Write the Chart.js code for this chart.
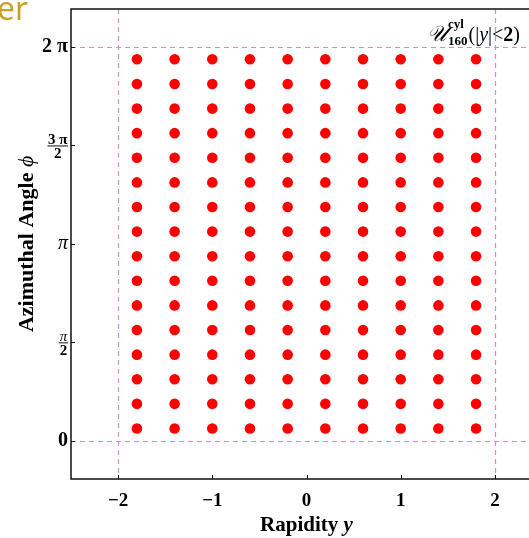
<!DOCTYPE html>
<html>
<head>
<meta charset="utf-8">
<script src="https://cdn.jsdelivr.net/npm/chart.js@4"></script>
<style>
  html, body { margin: 0; padding: 0; background: #fff; overflow: hidden; }
  #wrap { position: absolute; left: 0; top: 0; width: 560px; height: 538px; }
  #slideTitle {
    position: absolute; left: -3px; top: -12px;
    font-family: "Open Sans", sans-serif; font-size: 32px; color: #c9a021;
    line-height: 40px; z-index: 2;
  }
</style>
</head>
<body>
<div id="slideTitle">er</div>
<div id="wrap"><canvas id="grid" width="560" height="538"></canvas></div>
<script>
// grid of 160 particles: 10 rapidity columns x 16 azimuth rows
const rapidityValues = [-1.8, -1.4, -1.0, -0.6, -0.2, 0.2, 0.6, 1.0, 1.4, 1.8];
const phiValues = [0.196, 0.589, 0.982, 1.374, 1.767, 2.160, 2.553, 2.945,
                   3.338, 3.731, 4.123, 4.516, 4.909, 5.301, 5.694, 6.087];
const xTickValues = [-2, -1, 0, 1, 2];
const yTickValues = [0, Math.PI / 2, Math.PI, 3 * Math.PI / 2, 2 * Math.PI];
const yTickLabels = ["0", "π/2", "π", "3 π/2", "2 π"];
const boxRapidity = [-2, 2];
const boxPhi = [0, 2 * Math.PI];

const points = [];
rapidityValues.forEach((y) => {
  phiValues.forEach((phi) => points.push({ x: y, y: phi }));
});

const SERIF = '"Liberation Serif", "DejaVu Serif", serif';
const dashColor = "#d48cd8";

// frame, dashed box, inward ticks, y labels, axis titles, annotation
const decorations = {
  id: "decorations",
  beforeDatasetsDraw(chart) {
    const { ctx, chartArea: a, scales } = chart;
    const xs = scales.x, ys = scales.y;
    ctx.save();
    ctx.strokeStyle = dashColor;
    ctx.lineWidth = 1.2;
    ctx.setLineDash([5, 4]);
    boxRapidity.forEach((v) => {
      const px = Math.round(xs.getPixelForValue(v)) + 0.5;
      ctx.beginPath(); ctx.moveTo(px, a.top); ctx.lineTo(px, a.bottom); ctx.stroke();
    });
    boxPhi.forEach((v) => {
      const py = Math.round(ys.getPixelForValue(v)) + 0.5;
      ctx.beginPath(); ctx.moveTo(a.left, py); ctx.lineTo(a.right, py); ctx.stroke();
    });
    ctx.restore();
  },
  afterDraw(chart) {
    const { ctx, chartArea: a, scales } = chart;
    const xs = scales.x, ys = scales.y;
    ctx.save();
    // frame
    ctx.strokeStyle = "#111";
    ctx.lineWidth = 1.5;
    ctx.strokeRect(a.left, a.top, a.right - a.left, a.bottom - a.top);
    // ticks pointing inward
    ctx.lineWidth = 1;
    xTickValues.forEach((v) => {
      const px = Math.round(xs.getPixelForValue(v)) + 0.5;
      ctx.beginPath(); ctx.moveTo(px, a.bottom); ctx.lineTo(px, a.bottom - 4); ctx.stroke();
    });
    yTickValues.forEach((v) => {
      const py = Math.round(ys.getPixelForValue(v)) + 0.5;
      ctx.beginPath(); ctx.moveTo(a.left, py); ctx.lineTo(a.left + 4, py); ctx.stroke();
    });

    // y tick labels
    ctx.fillStyle = "#000";
    const rx = a.left - 3;
    yTickLabels.forEach((lab, i) => {
      const py = ys.getPixelForValue(yTickValues[i]);
      if (lab.includes("/")) {
        const [num, den] = lab.split("/");
        ctx.font = "bold 15px " + SERIF;
        const wn = ctx.measureText(num).width;
        const wd = ctx.measureText(den).width;
        const w = Math.max(wn, wd) + 1;
        const cx = rx - w / 2;
        ctx.textAlign = "center";
        ctx.textBaseline = "alphabetic";
        if (num.length > 1) {
          ctx.fillText(num, cx, py - 1.5);
        } else {
          ctx.font = "italic 15px " + SERIF;
          ctx.fillText(num, cx, py - 1.5);
          ctx.font = "bold 15px " + SERIF;
        }
        ctx.fillText(den, cx, py + 12.5);
        ctx.lineWidth = 1;
        ctx.beginPath(); ctx.moveTo(cx - w / 2, py + 0.5); ctx.lineTo(cx + w / 2, py + 0.5); ctx.stroke();
      } else if (lab === "π") {
        ctx.font = "italic 20px " + SERIF;
        ctx.textAlign = "right"; ctx.textBaseline = "middle";
        ctx.fillText(lab, rx, py);
      } else {
        ctx.font = "bold 20px " + SERIF;
        ctx.textAlign = "right"; ctx.textBaseline = "middle";
        ctx.fillText(lab, rx, py);
      }
    });

    // x title
    ctx.textBaseline = "alphabetic";
    ctx.textAlign = "left";
    const t1 = "Rapidity ";
    ctx.font = "bold italic 21px " + SERIF;
    const w2 = ctx.measureText("y").width;
    ctx.font = "bold 21px " + SERIF;
    const w1 = ctx.measureText(t1).width;
    const cx = xs.getPixelForValue(0);
    const sx = cx - (w1 + w2) / 2;
    ctx.fillText(t1, sx, 531);
    ctx.font = "bold italic 21px " + SERIF;
    ctx.fillText("y", sx + w1, 531);

    // y title
    ctx.save();
    ctx.translate(33, ys.getPixelForValue(Math.PI));
    ctx.rotate(-Math.PI / 2);
    ctx.font = "bold 22px " + SERIF;
    const s1 = "Azimuthal Angle ";
    const u1 = ctx.measureText(s1).width;
    ctx.font = "italic 22px " + SERIF;
    const u2 = ctx.measureText("ϕ").width;
    ctx.font = "bold 22px " + SERIF;
    ctx.fillText(s1, -(u1 + u2) / 2, 0);
    ctx.font = "italic 22px " + SERIF;
    ctx.fillText("ϕ", -(u1 + u2) / 2 + u1, 0);
    ctx.restore();

    // annotation U^cyl_160(|y|<2)
    let ax = 427;
    const base = 41;
    ctx.font = "italic 22px " + SERIF;
    ctx.fillText("𝒰", ax, base);
    ax += ctx.measureText("𝒰").width + 1;
    ctx.font = "bold 13px " + SERIF;
    ctx.fillText("cyl", ax, base - 13);
    ctx.fillText("160", ax, base + 4);
    ax += ctx.measureText("160").width + 1;
    ctx.font = "20px " + SERIF;
    ctx.fillText("(|", ax, base);
    ax += ctx.measureText("(|").width;
    ctx.font = "italic 20px " + SERIF;
    ctx.fillText("y", ax, base);
    ax += ctx.measureText("y").width;
    ctx.font = "20px " + SERIF;
    ctx.fillText("|<", ax, base);
    ax += ctx.measureText("|<").width;
    ctx.font = "bold 20px " + SERIF;
    ctx.fillText("2", ax, base);
    ax += ctx.measureText("2").width;
    ctx.font = "20px " + SERIF;
    ctx.fillText(")", ax, base);
    ctx.restore();
  }
};

new Chart(document.getElementById("grid"), {
  type: "scatter",
  data: {
    datasets: [{
      data: points,
      backgroundColor: "#ff0000",
      borderWidth: 0,
      pointRadius: 5.3,
      pointHoverRadius: 5.3
    }]
  },
  options: {
    responsive: false,
    animation: false,
    events: [],
    layout: { padding: { top: 9, right: 18, left: 0, bottom: 0 } },
    plugins: { legend: { display: false }, tooltip: { enabled: false } },
    scales: {
      x: {
        type: "linear",
        min: -2.5,
        max: 2.5,
        afterBuildTicks: (s) => { s.ticks = xTickValues.map((v) => ({ value: v })); },
        afterFit: (s) => { s.height = 59; },
        grid: { display: false, drawTicks: false },
        border: { display: false },
        ticks: {
          padding: 11,
          color: "#000",
          font: { family: SERIF, size: 19, weight: "bold" },
          callback: (v) => (v < 0 ? "\u2212" + Math.abs(v) : String(v))
        }
      },
      y: {
        type: "linear",
        min: -0.61,
        max: 6.89,
        afterBuildTicks: (s) => { s.ticks = yTickValues.map((v) => ({ value: v })); },
        afterFit: (s) => { s.width = 71; },
        grid: { display: false, drawTicks: false },
        border: { display: false },
        ticks: { display: false }
      }
    }
  },
  plugins: [decorations]
});
</script>
</body>
</html>
